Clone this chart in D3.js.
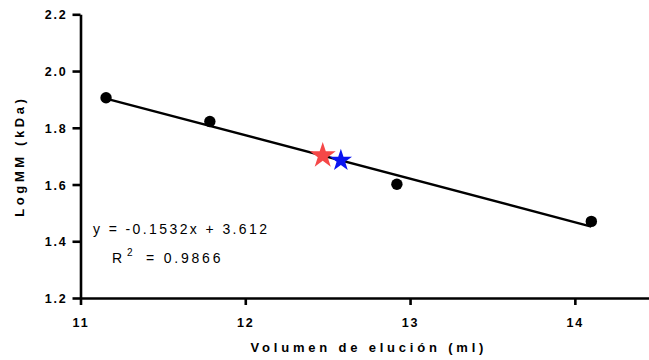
<!DOCTYPE html>
<html>
<head>
<meta charset="utf-8">
<script src="https://cdn.jsdelivr.net/npm/d3@7"></script>
<style>
    body { margin: 0; background: #fff; }
    svg text { font-family: "Liberation Sans", Arial, sans-serif; }
</style>
</head>
<body>
<svg id="chart"></svg>
<script>
// standards (volumen de elución vs log MM)
const volumen = [11.155, 11.785, 12.92, 14.10];
const logMM = [1.906, 1.822, 1.601, 1.470];
// unknown samples placed on the curve
const muestras = [
    {x: 12.47, y: 1.702, color: "#f54848", size: 210},
    {x: 12.58, y: 1.685, color: "#0a14f0", size: 155}
];
const xTicks = [11, 12, 13, 14];
const yTicks = [1.2, 1.4, 1.6, 1.8, 2.0, 2.2];
const pendiente = -0.1532, intercepto = 3.612;

function drawChart() {
    let width = 649, height = 360;
    let svg = d3.select("#chart").attr("width", width).attr("height", height);

    let x = d3.scaleLinear().domain([11, 14.45]).range([80.5, 649]);
    let y = d3.scaleLinear().domain([1.2, 2.2]).range([298, 14.3]);

    // axes
    let xAxis = svg.append("g")
        .attr("transform", "translate(0," + y(1.2) + ")")
        .call(d3.axisBottom(x).tickValues(xTicks).tickFormat(d3.format("d")).tickSize(7).tickSizeOuter(0));
    let yAxis = svg.append("g")
        .attr("transform", "translate(" + x(11) + ",0)")
        .call(d3.axisLeft(y).tickValues(yTicks).tickFormat(d3.format(".1f")).tickSize(8).tickSizeOuter(0));

    [xAxis, yAxis].forEach(function (a) {
        a.select(".domain").attr("stroke", "#000").attr("stroke-width", 2.6);
        a.selectAll(".tick line").attr("stroke", "#000").attr("stroke-width", 2.6);
        a.selectAll(".tick text")
            .attr("fill", "#000")
            .style("font-size", "12.5px")
            .style("font-weight", "bold")
            .style("letter-spacing", "1.8px");
    });
    xAxis.selectAll(".tick text").attr("dy", "1.5em");
    yAxis.selectAll(".tick text").attr("x", -13).attr("dy", "0.36em");

    // fit line
    let ext = d3.extent(volumen);
    svg.append("line")
        .attr("x1", x(ext[0])).attr("y1", y(pendiente * ext[0] + intercepto))
        .attr("x2", x(ext[1])).attr("y2", y(pendiente * ext[1] + intercepto))
        .attr("stroke", "#000").attr("stroke-width", 2.4);

    // standards
    svg.selectAll(".pt")
        .data(volumen)
        .enter().append("circle")
        .attr("class", "pt")
        .attr("cx", d => x(d))
        .attr("cy", (d, i) => y(logMM[i]))
        .attr("r", 5.7)
        .attr("fill", "#000");

    // samples (stars)
    let star = d3.symbol().type(d3.symbolStar);
    svg.selectAll(".star")
        .data(muestras)
        .enter().append("path")
        .attr("class", "star")
        .attr("d", d => star.size(d.size)())
        .attr("transform", d => "translate(" + x(d.x) + "," + y(d.y) + ")")
        .attr("fill", d => d.color);

    // equation
    svg.append("text")
        .attr("x", 93).attr("y", 234)
        .style("font-size", "14px")
        .style("letter-spacing", "2.4px")
        .text("y = " + pendiente + "x + " + intercepto);
    let r2 = svg.append("text")
        .attr("x", 112).attr("y", 263)
        .style("font-size", "14px")
        .style("letter-spacing", "2.8px");
    r2.append("tspan").text("R");
    r2.append("tspan").attr("dx", 2).attr("dy", -7).style("font-size", "10px").text("2");
    r2.append("tspan").attr("dx", 4).attr("dy", 7).text(" = 0.9866");

    // axis titles
    svg.append("text")
        .attr("x", x(12.75)).attr("y", 352)
        .attr("text-anchor", "middle")
        .style("font-size", "13px")
        .style("font-weight", "bold")
        .style("letter-spacing", "3.8px")
        .text("Volumen de elución (ml)");
    svg.append("text")
        .attr("transform", "translate(24," + y(1.7) + ") rotate(-90)")
        .attr("text-anchor", "middle")
        .style("font-size", "13px")
        .style("font-weight", "bold")
        .style("letter-spacing", "3.6px")
        .text("LogMM (kDa)");
}

drawChart();
</script>
</body>
</html>
